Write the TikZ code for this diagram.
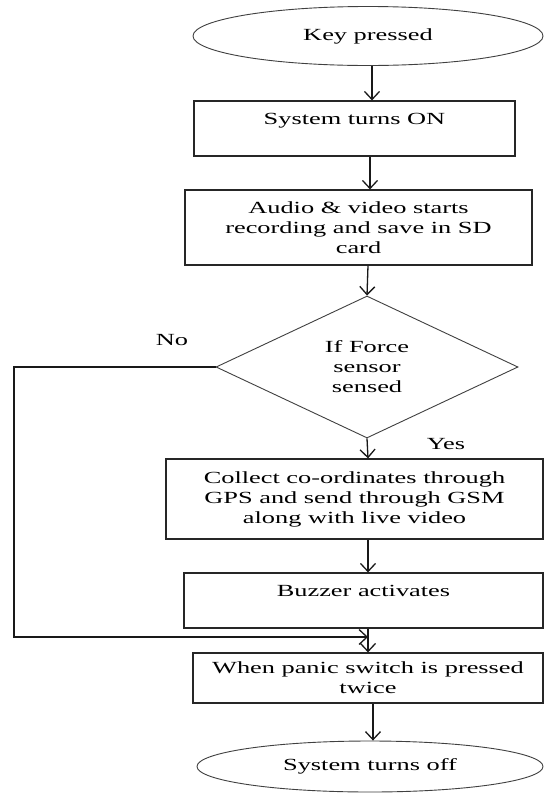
\documentclass[tikz,border=0pt]{standalone}
\usepackage{fontspec}
\setmainfont[FakeStretch=1.55]{Liberation Serif}
\usetikzlibrary{shapes.geometric,arrows.meta}
\begin{document}
\begin{tikzpicture}[x=1pt,y=-1pt,
  font=\fontsize{17}{20}\selectfont,
  proc/.style={draw=black!85, line width=1.2pt, rectangle, inner sep=0pt, align=center},
  term/.style={draw=black!75, line width=0.9pt, ellipse, inner sep=0pt, align=center},
  dec/.style={draw=black!75, line width=0.9pt, diamond, inner sep=0pt, align=center},
  arr/.style={line width=1.3pt, black!90, -{Straight Barb[length=8pt,width=15pt,line width=1.3pt]}},
  conn/.style={line width=1.3pt, black!90},
  lbl/.style={inner sep=0pt}]
\useasboundingbox[fill=white] (0,0) rectangle (544,793);

\node[term, minimum width=350pt, minimum height=59pt] (start) at (368,36) {Key pressed};
\node[proc, minimum width=321pt, minimum height=55pt] (on) at (354.5,128.5) {System turns ON\\~};
\node[proc, minimum width=347pt, minimum height=75pt] (rec) at (358.5,227.5) {Audio \& video starts\\recording and save in SD\\card};
\node[dec, minimum width=302pt, minimum height=142pt] (force) at (367,367) {If Force\\sensor\\sensed};
\node[proc, minimum width=377pt, minimum height=80pt] (gps) at (354.5,499) {Collect co-ordinates through\\GPS and send through GSM\\along with live video};
\node[proc, minimum width=359pt, minimum height=55pt] (buzz) at (363.5,600.5) {Buzzer activates\\~};
\node[proc, minimum width=350pt, minimum height=50pt] (panic) at (368,678) {When panic switch is pressed\\twice};
\node[term, minimum width=346pt, minimum height=51pt] (stop) at (370,766.5) {System turns off};

\node[lbl] (no) at (172,340) {No};
\node[lbl] (yes) at (446,444) {Yes};

\coordinate (c1) at (372,0);
\coordinate (c2) at (370,0);
\coordinate (c3) at (368,0);
\coordinate (c4) at (373,0);
\coordinate (left) at (14,637);
\coordinate (join) at (368,637);

\draw[arr] (c1 |- start.south) -- (c1 |- on.north);
\draw[arr] (c2 |- on.south) -- (c2 |- rec.north);
\draw[arr] (c3 |- rec.south) -- (force.north);
\draw[arr] (force.south) -- (c3 |- gps.north);
\draw[arr] (c3 |- gps.south) -- (c3 |- buzz.north);
\draw[arr] (c3 |- buzz.south) -- (c3 |- panic.north);
\draw[arr] (force.west) -| (left) -- (join);
\draw[arr] (c4 |- panic.south) -- (c4 |- stop.north);
\end{tikzpicture}
\end{document}
